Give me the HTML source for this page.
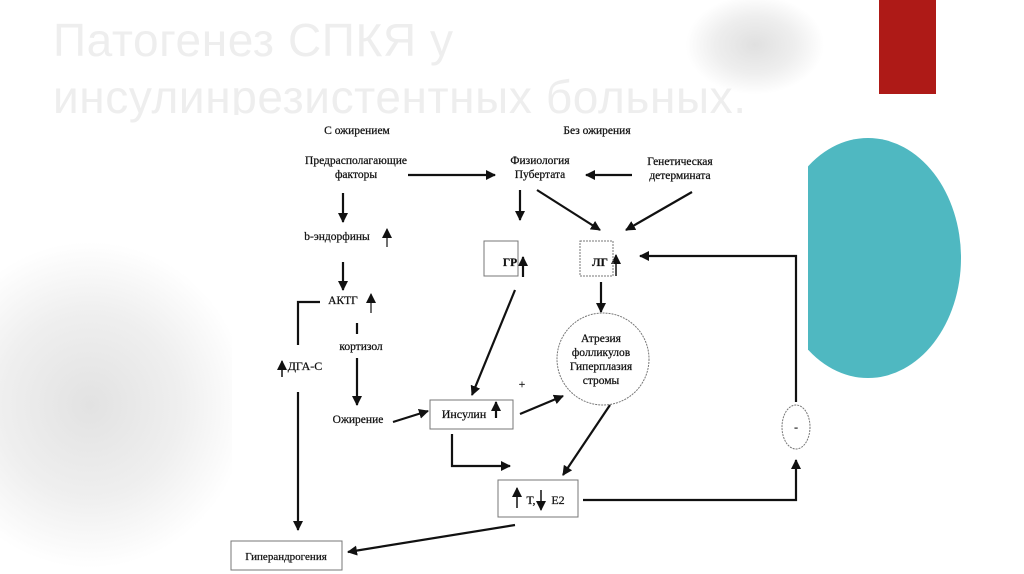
<!DOCTYPE html>
<html><head><meta charset="utf-8"><style>
html,body{margin:0;padding:0;}
body{width:1024px;height:574px;position:relative;overflow:hidden;background:#fff;font-family:"Liberation Sans",sans-serif;}
.title{position:absolute;left:53px;top:12px;font-size:46px;line-height:57px;color:#eeeeee;letter-spacing:0.6px;font-weight:300;}
</style></head><body>
<div style="position:absolute;left:685px;top:-5px;width:140px;height:100px;border-radius:50%;background:radial-gradient(ellipse at center,#e0e0e0 0%,#eeeeee 40%,rgba(255,255,255,0) 70%);"></div>
<div style="position:absolute;left:-70px;top:240px;width:320px;height:330px;border-radius:50%;background:radial-gradient(ellipse at center,#e2e2e2 0%,#efefef 40%,rgba(255,255,255,0) 70%);"></div>
<div class="title">Патогенез СПКЯ у<br>инсулинрезистентных больных.</div>
<div style="position:absolute;left:879px;top:0;width:57px;height:94px;background:#ae1a17;"></div>
<svg style="position:absolute;left:0;top:0" width="1024" height="574">
<defs><clipPath id="c"><rect x="808" y="0" width="300" height="574"/></clipPath>
<marker id="a" markerWidth="10" markerHeight="10" refX="9" refY="5" orient="auto" markerUnits="userSpaceOnUse"><path d="M0,0 L10,5 L0,10 z" fill="#111"/></marker></defs>
<ellipse cx="868" cy="258" rx="93" ry="120" fill="#4fb8c1" clip-path="url(#c)"/>
<rect x="232" y="115" width="576" height="459" fill="#fff"/>
<g font-family="Liberation Serif,serif" font-size="11.5" fill="#111" text-anchor="middle" stroke="#111" stroke-width="0.25">
<text x="357" y="134">С ожирением</text>
<text x="597" y="134">Без ожирения</text>
<text x="356" y="164">Предрасполагающие</text>
<text x="356" y="178">факторы</text>
<text x="540" y="164">Физиология</text>
<text x="540" y="178">Пубертата</text>
<text x="680" y="165">Генетическая</text>
<text x="680" y="179">детермината</text>
<text x="337" y="240">b-эндорфины</text>
<text x="343" y="304">АКТГ</text>
<text x="361" y="350">кортизол</text>
<text x="305" y="370" font-size="12">ДГА-С</text>
<text x="358" y="423">Ожирение</text>
<text x="510" y="266" font-weight="bold">ГР</text>
<text x="600" y="266" font-weight="bold">ЛГ</text>
<text x="464" y="418" font-size="12">Инсулин</text>
<text x="522" y="388">+</text>
<text x="601" y="342">Атрезия</text>
<text x="601" y="356">фолликулов</text>
<text x="601" y="370">Гиперплазия</text>
<text x="601" y="384">стромы</text>
<text x="531" y="504" font-size="12">Т,</text>
<text x="558" y="504" font-size="12">Е2</text>
<text x="286" y="560" font-size="11">Гиперандрогения</text>
<text x="796" y="431">-</text>
</g>
<g stroke="#111" stroke-width="2.2" fill="none" marker-end="url(#a)">
<line x1="408" y1="175" x2="495" y2="175"/>
<line x1="632" y1="175" x2="586" y2="175"/>
<line x1="343" y1="193" x2="343" y2="222"/>
<line x1="343" y1="262" x2="343" y2="290"/>
<line x1="520" y1="190" x2="520" y2="220"/>
<line x1="537" y1="190" x2="600" y2="230"/>
<line x1="692" y1="192" x2="626" y2="230"/>
<line x1="357" y1="358" x2="357" y2="405"/>
<line x1="393" y1="422" x2="428" y2="411"/>
<line x1="515" y1="290" x2="472" y2="395"/>
<line x1="520" y1="414" x2="563" y2="396"/>
<line x1="601" y1="282" x2="601" y2="312"/>
<line x1="610" y1="405" x2="563" y2="475"/>
<polyline points="452,434 452,466 510,466"/>
<polyline points="583,500 796,500 796,460"/>
<polyline points="796,402 796,256 640,256"/>
<polyline points="298,392 298,530"/>
<line x1="515" y1="525" x2="348" y2="552"/>
<line x1="523" y1="277" x2="523" y2="257"/>
<line x1="616" y1="276" x2="616" y2="255" stroke-width="1.5"/>
<line x1="387" y1="247" x2="387" y2="229" stroke-width="1.2"/>
<line x1="371" y1="313" x2="371" y2="294" stroke-width="1.2"/>
<line x1="496" y1="418" x2="496" y2="402"/>
<line x1="282" y1="377" x2="282" y2="361" stroke-width="1.5"/>
<line x1="517" y1="508" x2="517" y2="488" stroke-width="1.5"/>
<line x1="541" y1="490" x2="541" y2="510" stroke-width="1.5"/>
</g>
<g stroke="#111" stroke-width="2.2" fill="none">
<polyline points="320,302 298,302 298,345"/>
<line x1="357" y1="323" x2="357" y2="334"/>
</g>
<g stroke="#777" stroke-width="1" fill="none">
<rect x="484" y="241" width="34" height="35"/>
<rect x="580" y="241" width="33" height="35" stroke-dasharray="2,1"/>
<rect x="430" y="400" width="83" height="29"/>
<rect x="498" y="480" width="80" height="37"/>
<rect x="231" y="541" width="111" height="29"/>
<circle cx="603" cy="359" r="46" stroke-dasharray="2,1"/>
<ellipse cx="796" cy="427" rx="14" ry="22" stroke-dasharray="2,1"/>
</g>
</svg>
</body></html>
